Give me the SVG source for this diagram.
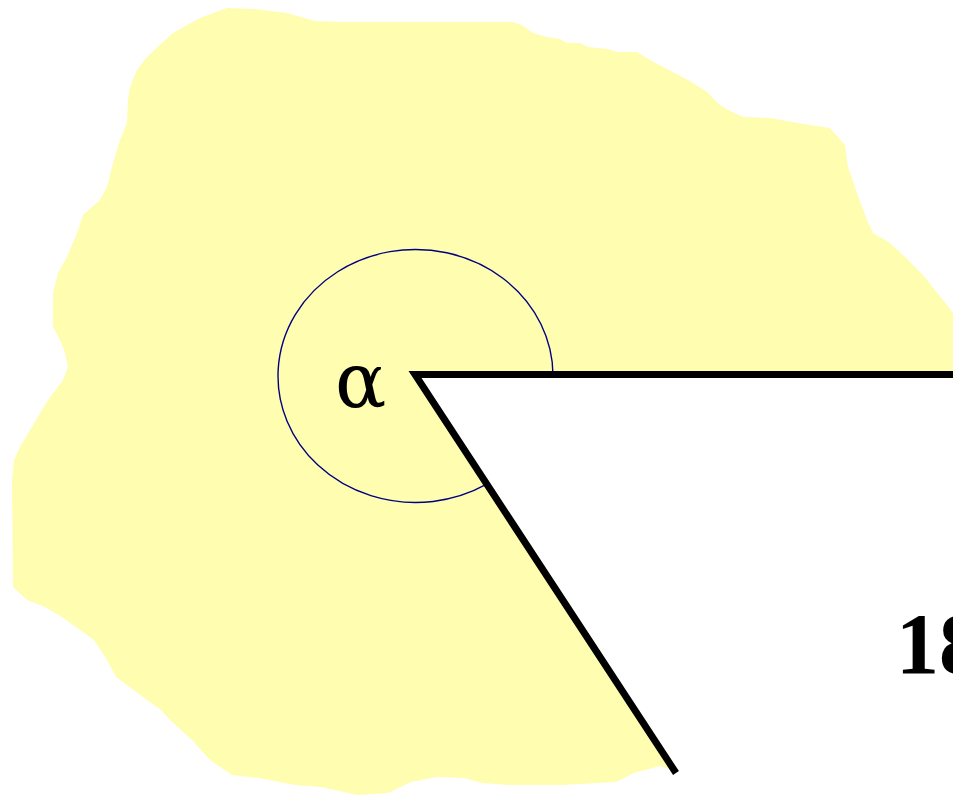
<svg xmlns="http://www.w3.org/2000/svg" width="953" height="798" viewBox="0 0 953 798">
<style>
.blob{fill:#FFFDAF;stroke:none}
.wedge{fill:#FFFFFF;stroke:none}
.ray{fill:none;stroke:#000;stroke-width:7;stroke-linejoin:miter;stroke-linecap:butt}
.arc{fill:none;stroke:#000080;stroke-width:1.4}
.alpha{font-family:"DejaVu Serif","Liberation Serif",serif;font-size:76px;fill:#000}
.num{font-family:"Liberation Serif","Times New Roman",serif;font-size:86px;font-weight:bold;fill:#000}
</style>
<rect width="953" height="798" fill="#FFFFFF"/>
<g id="region">
<path class="blob" d="M227,8 L253,9 L287,13 L315,21 L340,22 L512,22 L522,25 L533,33 L547,37 L560,39 L567,43 L580,43 L588,47 L607,49 L617,52 L637,52 L650,60 L667,69 L688,80 L707,92 L720,105 L730,111 L743,117 L770,118 L792,122 L810,125 L830,128 L845,145 L848,167 L857,193 L867,220 L873,233 L890,243 L905,257 L920,272 L927,280 L947,305 L953,313 L953,798 L693,798 L677,772 L660,766 L634,773 L616,782 L562,785 L509,785 L482,783 L464,778 L437,777 L411,782 L388,793 L357,795 L321,787 L295,785 L259,778 L232,775 L210,760 L192,740 L170,720 L161,710 L147,700 L116,677 L107,660 L94,640 L62,617 L45,607 L27,600 L13,587 L12,480 L14,460 L20,447 L36,420 L48,400 L63,380 L68,367 L65,353 L60,340 L53,327 L53,293 L58,273 L67,257 L77,233 L83,215 L100,200 L107,187 L113,163 L120,140 L127,123 L128,100 L130,87 L137,70 L147,57 L163,42 L173,33 L200,18 Z"/>
<polygon class="wedge" points="415,375 953,375 953,798 693,798"/>
</g>
<g id="angle">
<path class="arc" d="M553,375 A137.5,126.5 0 1 0 486.7,484.2"/>
<polyline class="ray" points="953,374.5 415,374.5 676,773"/>
</g>
<g id="labels">
<text class="alpha" x="335" y="407">α</text>
<text class="num" x="896" y="673">18</text>
</g>
</svg>
